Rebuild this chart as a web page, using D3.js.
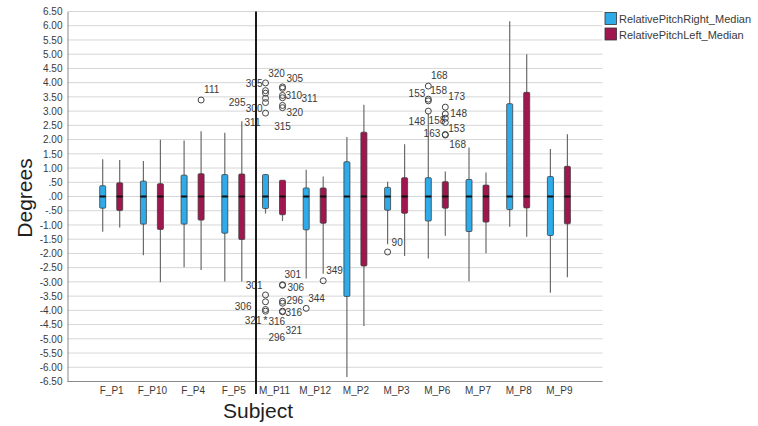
<!DOCTYPE html>
<html><head><meta charset="utf-8">
<script src="https://cdn.jsdelivr.net/npm/d3@7"></script>
<style>body{margin:0;background:#fff;} svg{display:block;}</style>
</head><body>
<script>
// ---------- DATA ----------
const categories = ["F_P1","F_P10","F_P4","F_P5","M_P11","M_P12","M_P2","M_P3","M_P6","M_P7","M_P8","M_P9"];
const seriesNames = ["RelativePitchRight_Median","RelativePitchLeft_Median"];
// Right series (blue)
const rightLow  = [-1.24,-2.06,-2.49,-2.99,-0.60,-2.88,-6.34,-1.68,-2.18,-2.98,-1.06,-3.38];
const rightQ1   = [-0.41,-0.97,-0.97,-1.29,-0.42,-1.17,-3.51,-0.48,-0.86,-1.23,-0.46,-1.37];
const rightMed  = [0,0,0,0,0,0,0,0,0,0,0,0];
const rightQ3   = [0.38,0.54,0.75,0.77,0.77,0.30,1.22,0.32,0.66,0.60,3.26,0.70];
const rightHigh = [1.31,1.25,1.97,2.24,0.77,0.94,2.09,0.52,2.92,1.72,6.16,1.67];
// Left series (maroon)
const leftLow   = [-1.09,-3.01,-2.58,-2.99,-0.86,-2.71,-4.55,-2.09,-1.38,-1.99,-1.41,-2.84];
const leftQ1    = [-0.49,-1.16,-0.83,-1.51,-0.64,-0.94,-2.44,-0.59,-0.41,-0.90,-0.40,-0.96];
const leftMed   = [0,0,0,0,0,0,0,0,0,0,0,0];
const leftQ3    = [0.48,0.45,0.80,0.79,0.57,0.30,2.26,0.66,0.52,0.40,3.66,1.06];
const leftHigh  = [1.28,1.99,2.29,2.64,0.57,0.70,3.22,1.84,0.88,0.84,5.00,2.19];
// Outliers
const outCat    = ["F_P4","M_P11","M_P11","M_P11","M_P11","M_P11","M_P11","M_P11","M_P11","M_P11","M_P11","M_P11","M_P11",
                   "M_P11","M_P11","M_P11","M_P11","M_P11","M_P11","M_P11","M_P11","M_P11","M_P11","M_P11",
                   "M_P12","M_P12","M_P3","M_P6","M_P6","M_P6","M_P6","M_P6","M_P6","M_P6","M_P6","M_P6","M_P6"];
const outSeries = ["L","R","R","R","R","R","R","L","L","L","L","L","L",
                   "R","R","R","R","R","L","L","L","L","L","L",
                   "R","L","R","R","R","R","R","L","L","L","L","L","L"];
const outValue  = [3.39,3.99,3.72,3.63,3.45,3.30,2.93,3.85,3.80,3.55,3.47,3.20,3.12,
                   -3.46,-3.70,-3.97,-4.03,-4.31,-3.10,-3.12,-3.68,-3.75,-4.03,-4.05,
                   -3.93,-2.96,-1.95,3.88,3.42,3.36,3.00,3.14,2.90,2.75,2.60,2.18,2.16];
const outLabel  = ["111","305","","","295","300","311","320","305","310","311","320","315",
                   "301","306","296","321","316","301","306","","296","316","321",
                   "344","349","90","168","153","158","148","173","148","158","153","163","168"];
const outShape  = ["o","o","o","o","o","o","o","o","o","o","o","o","o",
                   "o","o","o","o","*","o","o","o","o","o","o",
                   "o","o","o","o","o","o","o","o","o","o","o","o","o"];
const yTicks = d3.range(-6.5, 6.51, 0.5);
</script>
<script>
// ---------- LAYOUT / STYLE ----------
const W = 758, H = 426;
const plot = {left: 67.5, right: 602.5, top: 11.5, bottom: 381.5};
const colors = {R: "#2fabea", L: "#a0174f"};
const boxW = 6, pairOff = 8.5;
// label offsets [dx, dy, anchor] per outlier
const labelPlace = [[3,-7,"start"],[-3,4,"end"],[0,0,"start"],[0,0,"start"],[-20,8,"end"],[-3,9,"end"],[-5,13,"end"],
  [-6,-10,"middle"],[4,-6,"start"],[3,4,"start"],[19,4,"start"],[4,11,"start"],[0,22,"middle"],
  [-3,-6,"end"],[-14,8,"end"],[3,32,"start"],[-4,13,"end"],[3,6,"start"],
  [2,-7,"start"],[5,6,"start"],[0,0,"start"],[4,1,"start"],[3,5,"start"],[3,22,"start"],
  [2,-6,"start"],[3,-7,"start"],[4,-6,"start"],
  [11,-7,"middle"],[-3,-2,"end"],[2,-7,"start"],[-3,14,"end"],
  [3,-7,"start"],[5,3,"start"],[0,6,"end"],[3,9,"start"],[-5,3,"end"],[4,13,"start"]];

const baseFont = "Arial, 'Liberation Sans', sans-serif";
const svg = d3.select("body").append("svg").attr("width", W).attr("height", H)
  .style("font-family", baseFont);

const y = d3.scaleLinear().domain([-6.5, 6.5]).range([plot.bottom, plot.top]);
const x = d3.scalePoint().domain(categories).range([111.2, 558.9]);
const fmt = v => {
  const s = Math.abs(v).toFixed(2);
  const t = s.startsWith("0") ? s.slice(1) : s;
  return (v < -1e-9 ? "-" : "") + t;
};

// gridlines
svg.append("g").selectAll("line").data(yTicks).join("line")
  .attr("x1", plot.left).attr("x2", plot.right)
  .attr("y1", d => y(d)).attr("y2", d => y(d))
  .attr("stroke", "#d6d6d6").attr("stroke-width", 1);

// y axis
const yAxis = d3.axisLeft(y).tickValues(yTicks).tickFormat(fmt).tickSize(0).tickPadding(5);
const gy = svg.append("g").attr("transform", `translate(${plot.left},0)`).call(yAxis);
gy.select(".domain").attr("stroke", "#8a8a8a");
gy.selectAll("text").attr("font-size", 10).attr("fill", "#3a3a3a").attr("font-family", baseFont);

// x axis
const xAxis = d3.axisBottom(x).tickSize(0).tickPadding(5);
const gx = svg.append("g").attr("transform", `translate(0,${plot.bottom})`).call(xAxis);
gx.select(".domain").remove();
gx.selectAll("text").attr("font-size", 10).attr("fill", "#3a3a3a").attr("font-family", baseFont);
svg.append("line").attr("x1", plot.left).attr("x2", plot.right).attr("y1", plot.bottom).attr("y2", plot.bottom)
  .attr("stroke", "#8a8a8a");

// boxes
const series = [
  {key: "R", off: -pairOff, low: rightLow, q1: rightQ1, med: rightMed, q3: rightQ3, high: rightHigh},
  {key: "L", off: pairOff, low: leftLow, q1: leftQ1, med: leftMed, q3: leftQ3, high: leftHigh}
];
series.forEach(s => {
  const g = svg.append("g");
  const rows = categories.map((c, i) => ({c, i}));
  g.selectAll("line.wh").data(rows).join("line").attr("class", "wh")
    .attr("x1", d => x(d.c) + s.off).attr("x2", d => x(d.c) + s.off)
    .attr("y1", d => y(s.high[d.i])).attr("y2", d => y(s.low[d.i]))
    .attr("stroke", "#6b6b6b").attr("stroke-width", 1.2);
  g.selectAll("rect").data(rows).join("rect")
    .attr("x", d => x(d.c) + s.off - boxW / 2).attr("width", boxW)
    .attr("y", d => y(s.q3[d.i])).attr("height", d => y(s.q1[d.i]) - y(s.q3[d.i]))
    .attr("rx", 1).attr("fill", colors[s.key]).attr("stroke", "#3d3d3d").attr("stroke-width", 0.8);
  g.selectAll("line.md").data(rows).join("line").attr("class", "md")
    .attr("x1", d => x(d.c) + s.off - boxW / 2).attr("x2", d => x(d.c) + s.off + boxW / 2)
    .attr("y1", d => y(s.med[d.i])).attr("y2", d => y(s.med[d.i]))
    .attr("stroke", "#111").attr("stroke-width", 2);
});

// outliers
const outs = outValue.map((v, i) => ({v, i, cx: x(outCat[i]) + (outSeries[i] === "R" ? -pairOff : pairOff), cy: y(v)}));
const og = svg.append("g");
og.selectAll("circle").data(outs.filter(d => outShape[d.i] === "o")).join("circle")
  .attr("cx", d => d.cx).attr("cy", d => d.cy).attr("r", 3)
  .attr("fill", "none").attr("stroke", "#444").attr("stroke-width", 1);
og.selectAll("text.star").data(outs.filter(d => outShape[d.i] === "*")).join("text").attr("class", "star")
  .attr("x", d => d.cx).attr("y", d => d.cy + 5).attr("text-anchor", "middle")
  .attr("font-size", 11).attr("fill", "#333").text("*");
og.selectAll("text.lab").data(outs.filter(d => outLabel[d.i] !== "")).join("text").attr("class", "lab")
  .attr("x", d => d.cx + labelPlace[d.i][0]).attr("y", d => d.cy + labelPlace[d.i][1])
  .attr("text-anchor", d => labelPlace[d.i][2])
  .attr("font-size", 10).attr("fill", "#3a3a3a").text(d => outLabel[d.i]);

// separator line between groups
const sepX = x("M_P11") - 18;
svg.append("line").attr("x1", sepX).attr("x2", sepX).attr("y1", plot.top).attr("y2", 394)
  .attr("stroke", "#1a1a1a").attr("stroke-width", 2);

// titles
const titleFont = "'Liberation Sans', Arial, sans-serif";
svg.append("text").attr("transform", `translate(32,198) rotate(-90)`).attr("text-anchor", "middle")
  .attr("font-family", titleFont).attr("font-size", 21).attr("fill", "#1f1f1f").text("Degrees");
svg.append("text").attr("x", 258).attr("y", 417.5).attr("text-anchor", "middle")
  .attr("font-family", titleFont).attr("font-size", 21).attr("fill", "#1f1f1f").text("Subject");

// legend
const lg = svg.append("g");
["R", "L"].forEach((k, i) => {
  lg.append("rect").attr("x", 605).attr("y", 12.5 + i * 15.5).attr("width", 11.5).attr("height", 12)
    .attr("fill", colors[k]).attr("stroke", "#333").attr("stroke-width", 0.8);
  lg.append("text").attr("x", 619).attr("y", 23 + i * 15.5).attr("font-size", 11).attr("fill", "#3a3a3a")
    .text(seriesNames[i]);
});
</script>
</body></html>
